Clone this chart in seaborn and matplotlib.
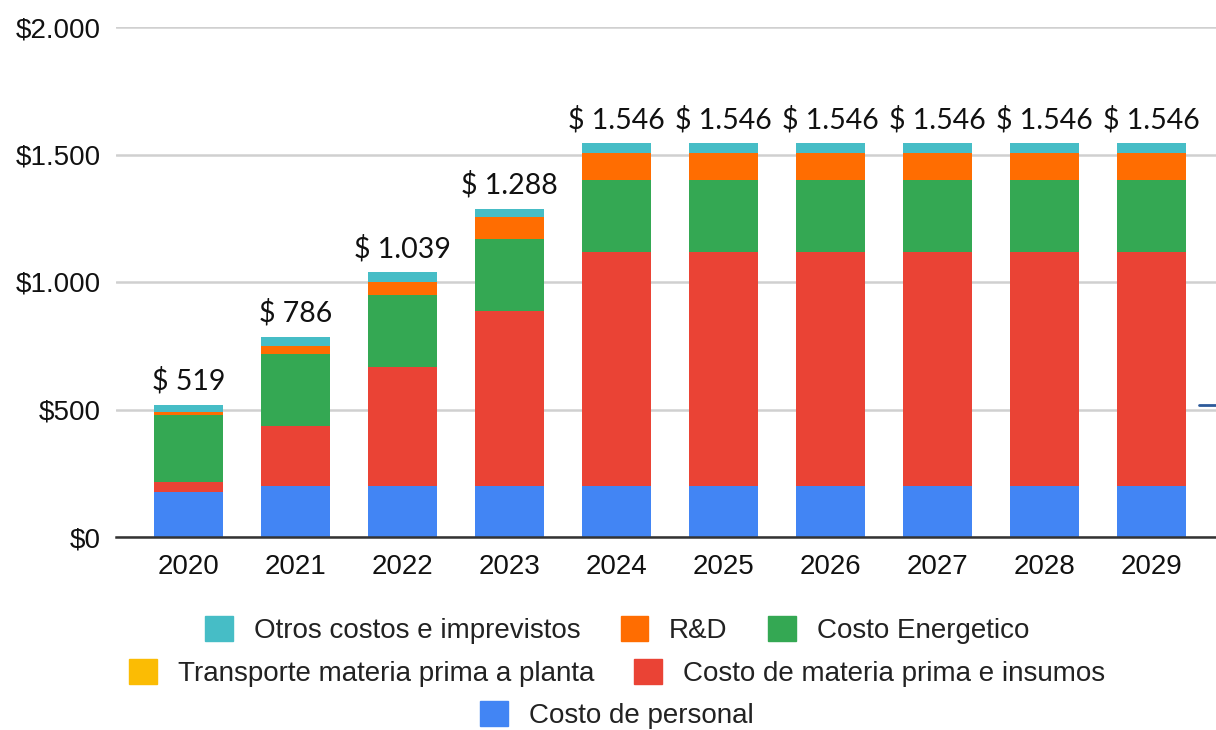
import matplotlib
matplotlib.use("Agg")
import matplotlib.pyplot as plt
from matplotlib.patches import Patch
from matplotlib.lines import Line2D
from matplotlib.ticker import FuncFormatter
import numpy as np
import pandas as pd
import seaborn as sns

# Annual cost breakdown (thousands of $)
years = ["2020", "2021", "2022", "2023", "2024", "2025", "2026", "2027", "2028", "2029"]
costo_personal = [175, 200, 200, 200, 200, 200, 200, 200, 200, 200]
costo_materia = [42, 236, 466, 686, 917, 917, 917, 917, 917, 917]
transporte = [0, 0, 0, 0, 0, 0, 0, 0, 0, 0]
costo_energetico = [261, 282, 283, 282, 282, 282, 282, 282, 282, 282]
r_and_d = [12, 32, 52, 85, 105, 105, 105, 105, 105, 105]
otros = [29, 36, 38, 35, 42, 42, 42, 42, 42, 42]
totals = [519, 786, 1039, 1288, 1546, 1546, 1546, 1546, 1546, 1546]

series_names = [
    "Costo de personal",
    "Costo de materia prima e insumos",
    "Transporte materia prima a planta",
    "Costo Energetico",
    "R&D",
    "Otros costos e imprevistos",
]
series_values = [costo_personal, costo_materia, transporte, costo_energetico, r_and_d, otros]
series_colors = ["#4285f4", "#ea4335", "#fbbc04", "#34a853", "#ff6d01", "#46bdc6"]

sns.set_theme(style="white")
plt.rcParams["font.family"] = ["Liberation Sans", "DejaVu Sans"]

fig = plt.figure(figsize=(12.16, 7.3), dpi=100)
ax = fig.add_axes([116 / 1216, 193 / 730, 1 - 116 / 1216, 510 / 730])

df = pd.DataFrame({"year": years})
cum = np.zeros(len(years))
cumulative = []
for vals in series_values:
    cum = cum + np.array(vals, dtype=float)
    cumulative.append(cum.copy())

# Stacked bars: draw the tallest cumulative layer first, then overlay lower layers
for name, color, cvals in reversed(list(zip(series_names, series_colors, cumulative))):
    d = df.assign(value=cvals)
    sns.barplot(data=d, x="year", y="value", color=color, width=0.645,
                saturation=1, linewidth=0, ax=ax, zorder=3)

# Value labels above each bar
for i, t in enumerate(totals):
    label = f"$ {t:,}".replace(",", ".")
    ax.annotate(label, xy=(i, t), xytext=(0, 7), textcoords="offset points",
                ha="center", va="bottom", fontsize=20.5, family=["Lato", "DejaVu Sans"],
                color="#111111")

ax.set_ylim(0, 2000)
ax.set_xlim(-0.68, 9.6)
ax.set_yticks([0, 500, 1000, 1500, 2000])
ax.yaxis.set_major_formatter(FuncFormatter(lambda v, p: f"${int(v):,}".replace(",", ".")))
ax.set_xlabel("")
ax.set_ylabel("")
ax.grid(axis="y", color="#d0d0d0", linewidth=1.8, zorder=0)
ax.set_axisbelow(True)
for s in ["top", "right", "left"]:
    ax.spines[s].set_visible(False)
ax.spines["bottom"].set_color("#333333")
ax.spines["bottom"].set_linewidth(1.8)
ax.spines["bottom"].set_zorder(4)
ax.tick_params(axis="both", length=0, labelsize=20, colors="#111111")
ax.tick_params(axis="y", pad=11)
ax.tick_params(axis="x", pad=12)

# Legend laid out in three centred rows
handles = {n: Patch(facecolor=c, edgecolor=c) for n, c in zip(series_names, series_colors)}
rows = [
    (["Otros costos e imprevistos", "R&D", "Costo Energetico"], 100 / 730),
    (["Transporte materia prima a planta", "Costo de materia prima e insumos"], 57 / 730),
    (["Costo de personal"], 15 / 730),
]
for names, yc in rows:
    leg = fig.legend([handles[n] for n in names], names, loc="center",
                     bbox_to_anchor=(617 / 1216, yc), ncol=len(names), frameon=False,
                     fontsize=20, handlelength=1.0, handleheight=1.0,
                     handletextpad=0.75, columnspacing=1.45, borderpad=0, borderaxespad=0)
    for t in leg.get_texts():
        t.set_color("#222222")

# Short marker stub at the right edge
fig.add_artist(Line2D([1199 / 1216, 1.0], [1 - 405 / 730, 1 - 405 / 730],
                      color="#2d5a9a", linewidth=2))

fig.savefig("out.png", dpi=100)
